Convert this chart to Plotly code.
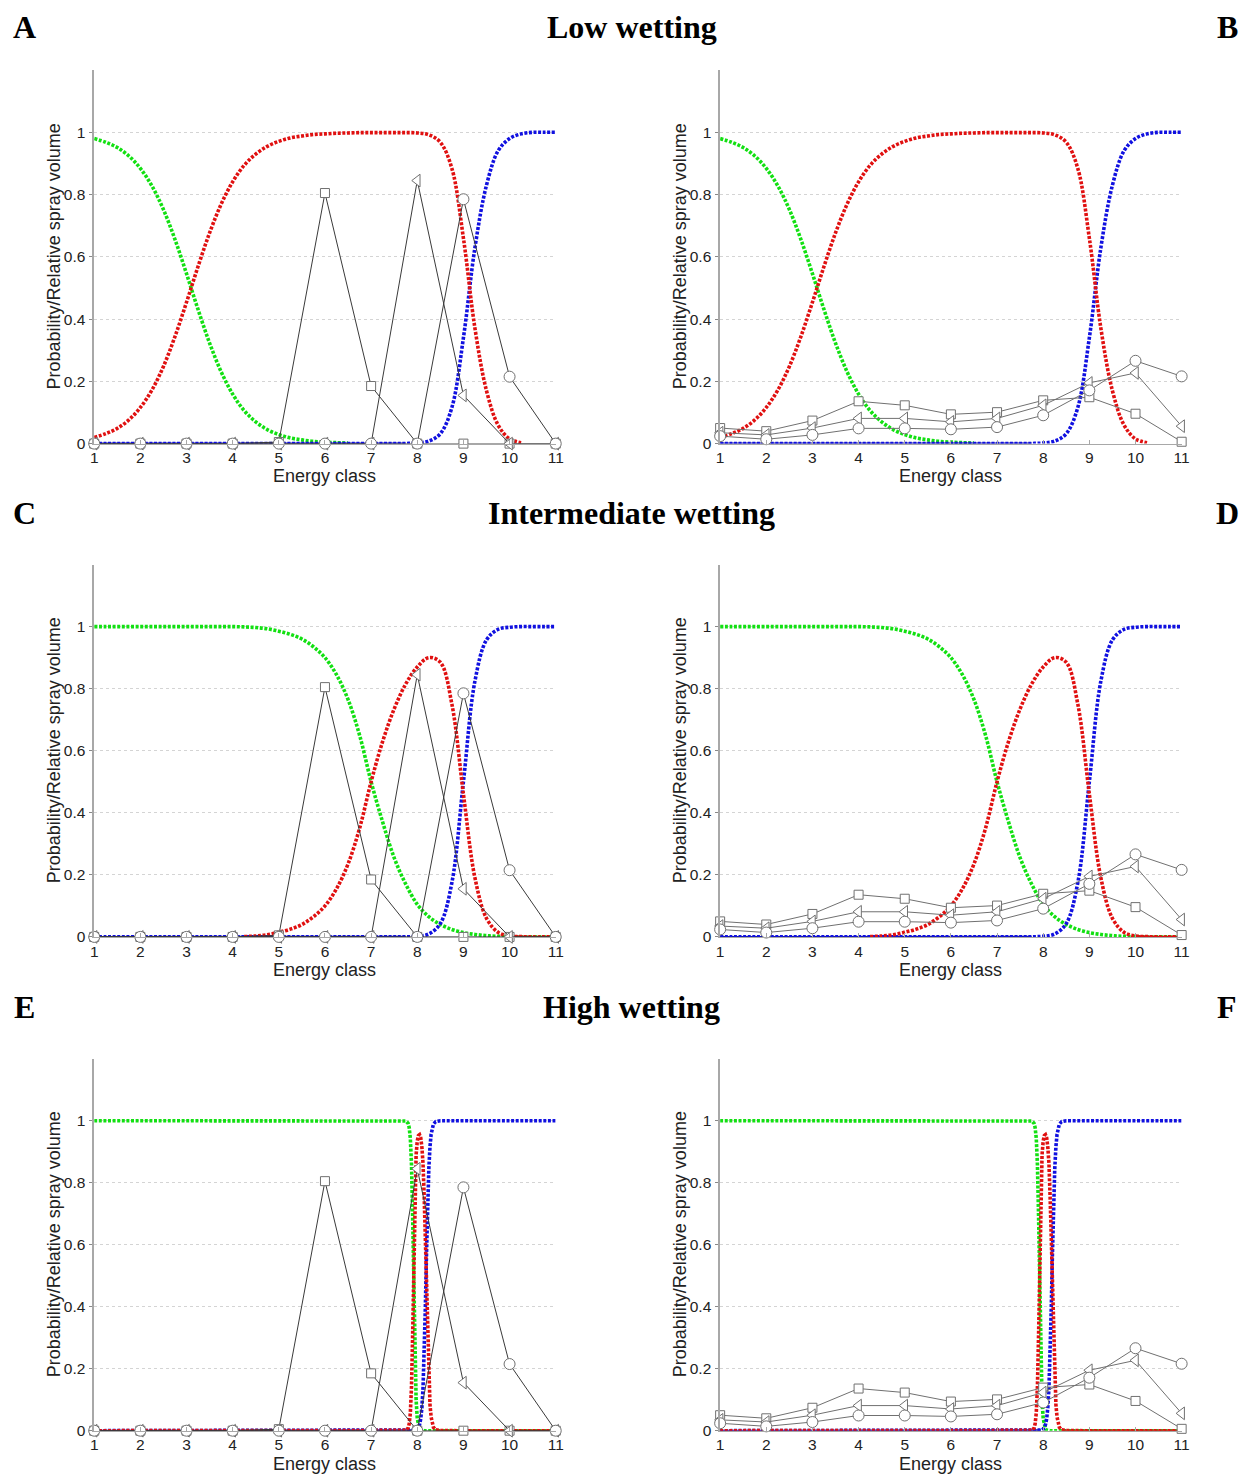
import plotly.graph_objects as go

# ---------------- data ----------------
ENERGY = [1, 2, 3, 4, 5, 6, 7, 8, 9, 10, 11]
X_TICKS = ["1", "2", "3", "4", "5", "6", "7", "8", "9", "10", "11"]
Y_TICKS = [0, 0.2, 0.4, 0.6, 0.8, 1]
Y_TICKTEXT = ["0", "0.2", "0.4", "0.6", "0.8", "1"]

# spray volume series (left column: A, C, E)
SQUARES_L = [0, 0, 0, 0, 0.005, 0.805, 0.185, 0, 0, 0, 0]
TRIANGLES_L = [0, 0, 0, 0, 0, 0, 0, 0.845, 0.155, 0, 0]
CIRCLES_L = [0, 0, 0, 0, 0, 0, 0, 0, 0.785, 0.215, 0]
# spray volume series (right column: B, D, F)
SQUARES_R = [0.05, 0.04, 0.074, 0.136, 0.123, 0.094, 0.101, 0.139, 0.149, 0.096, 0.006]
TRIANGLES_R = [0.035, 0.028, 0.05, 0.081, 0.081, 0.07, 0.081, 0.123, 0.195, 0.227, 0.056]
CIRCLES_R = [0.024, 0.014, 0.028, 0.049, 0.049, 0.046, 0.053, 0.091, 0.171, 0.266, 0.216]

# probability curves
X_SMOOTH = [1, 1.25, 1.5, 1.75, 2, 2.25, 2.5, 2.75, 3, 3.25, 3.5, 3.75, 4, 4.25, 4.5, 4.75,
            5, 5.25, 5.5, 5.75, 6, 6.25, 6.5, 6.75, 7, 7.25, 7.5, 7.75, 8, 8.25, 8.5, 8.75,
            9, 9.25, 9.5, 9.75, 10, 10.25, 10.5, 10.75, 11]

GREEN_LOW = [0.980, 0.968, 0.951, 0.924, 0.884, 0.828, 0.752, 0.656, 0.546, 0.431, 0.323,
             0.231, 0.159, 0.106, 0.070, 0.045, 0.029, 0.018, 0.012, 0.007, 0.005, 0.003,
             0.002, None, None, None, None, None, None, None, None, None, None, None, None,
             None, None, None, None, None, None]
RED_LOW = [0.020, 0.032, 0.049, 0.076, 0.116, 0.172, 0.248, 0.344, 0.454, 0.569, 0.677,
           0.769, 0.841, 0.894, 0.930, 0.955, 0.971, 0.982, 0.988, 0.993, 0.995, 0.997,
           0.998, 0.999, 0.999, 0.999, 0.999, 0.999, 0.998, 0.992, 0.968, 0.884, 0.660,
           0.370, 0.170, 0.060, 0.015, 0.003, None, None, None]
BLUE_LOW = [0, 0, 0, 0, 0, 0, 0, 0, 0, 0, 0, 0, 0, 0, 0, 0, 0, 0, 0, 0, 0, 0, 0, 0, 0, 0,
            0.0001, 0.0005, 0.002, 0.008, 0.032, 0.116, 0.340, 0.630, 0.830, 0.940, 0.980,
            0.995, 1.0, 1.0, 1.0]

GREEN_MID = [1, 1, 1, 1, 1, 1, 1, 1, 1, 1, 1, 1, 1, 0.999, 0.997, 0.993, 0.985, 0.975, 0.96,
             0.935, 0.90, 0.845, 0.765, 0.65, 0.50, 0.37, 0.255, 0.17, 0.105, 0.065, 0.04,
             0.024, 0.014, 0.008, 0.004, 0.002, 0.001, 0, 0, 0, 0]
RED_MID = [None, None, None, None, None, None, None, None, None, None, None, None, None,
           0.001, 0.003, 0.007, 0.015, 0.025, 0.04, 0.065, 0.10, 0.155, 0.235, 0.35, 0.50,
           0.63, 0.735, 0.815, 0.87, 0.90, 0.885, 0.75, 0.46, 0.19, 0.06, 0.015, 0.003,
           0.001, 0, 0, 0]
BLUE_MID = [0, 0, 0, 0, 0, 0, 0, 0, 0, 0, 0, 0, 0, 0, 0, 0, 0, 0, 0, 0, 0, 0, 0, 0, 0, 0, 0,
            0.0004, 0.002, 0.0095, 0.043, 0.175, 0.5, 0.825, 0.957, 0.991, 0.998, 1, 1, 1, 1]

X_SHARP = [1, 2, 3, 4, 5, 6, 7, 7.5, 7.7, 7.75, 7.8, 7.825, 7.85, 7.875, 7.9, 7.925, 7.95,
           7.975, 8.0, 8.025, 8.05, 8.075, 8.1, 8.125, 8.15, 8.175, 8.2, 8.225, 8.25, 8.275,
           8.3, 8.35, 8.4, 8.5, 9, 10, 11]
GREEN_HIGH = [1, 1, 1, 1, 1, 1, 1, 1, 0.9999, 0.9989, 0.992, 0.978, 0.943, 0.858, 0.690,
              0.450, 0.231, 0.100, 0.039, 0.015, 0.0055, 0.002, 0.0007, 0, 0, 0, 0, 0, 0,
              0, 0, 0, 0, 0, 0, 0, 0]
RED_HIGH = [0, 0, 0, 0, 0, 0, 0, 0, 0.0001, 0.001, 0.008, 0.022, 0.057, 0.142, 0.31, 0.549,
            0.768, 0.89, 0.935, 0.952, 0.955, 0.945, 0.915, 0.861, 0.754, 0.603, 0.43, 0.273,
            0.157, 0.085, 0.044, 0.011, 0.0028, 0.0002, 0, 0, 0]
BLUE_HIGH = [0, 0, 0, 0, 0, 0, 0, 0, 0, 0, 0, 0, 0, 0, 0.0003, 0.0006, 0.0012, 0.0024,
             0.0049, 0.0098, 0.0195, 0.038, 0.074, 0.139, 0.246, 0.397, 0.570, 0.727, 0.843,
             0.915, 0.956, 0.989, 0.997, 0.9998, 1, 1, 1]

ROW_TITLES = ["Low wetting", "Intermediate wetting", "High wetting"]
PANEL_LETTERS = [["A", "B"], ["C", "D"], ["E", "F"]]
X_TITLE = "Energy class"
Y_TITLE = "Probability/Relative spray volume"

# ---------------- layout geometry (page pixels) ----------------
PAGE_W, PAGE_H = 1257, 1483
OFF = 8                        # default body margin of the html page
W, H = PAGE_W - OFF, PAGE_H - 2 * OFF


def px_x(px):
    return (px - OFF) / W


def px_y(py):
    return 1 - (py - OFF) / H


COL_X = [(91, 557), (723, 1189)]          # page x of energy class 1 and 11
ROW_Y = [(446, 133), (942, 630), (1438.5, 1126.8)]  # page y of value 0 and 1
Y_MAX = 1.2
TITLE_Y = [27, 516, 1012]
LETTER_X = [21, 1235]

GREEN = "#12e012"
RED = "#e01010"
BLUE = "#1010e0"
DOT = "3px,1.6px"
TICKFONT = dict(family="Liberation Sans, Arial", size=15.5, color="#222")
LABELFONT = dict(family="Liberation Sans, Arial", size=18, color="#222")
HEADFONT = dict(family="Liberation Serif, Times New Roman", size=32, color="black")

fig = go.Figure()
annotations = []

curve_sets = [
    (X_SMOOTH, GREEN_LOW, RED_LOW, BLUE_LOW, "spline"),
    (X_SMOOTH, GREEN_MID, RED_MID, BLUE_MID, "spline"),
    (X_SHARP, GREEN_HIGH, RED_HIGH, BLUE_HIGH, "linear"),
]
marker_sets = [
    (SQUARES_L, TRIANGLES_L, CIRCLES_L, "#3a3a3a"),
    (SQUARES_R, TRIANGLES_R, CIRCLES_R, "#707070"),
]

idx = 0
for r in range(3):
    y0px, y1px = ROW_Y[r]
    per = y0px - y1px
    top_px = y0px - Y_MAX * per
    ydom = [px_y(y0px), px_y(top_px)]
    for c in range(2):
        idx += 1
        sfx = "" if idx == 1 else str(idx)
        xa, ya = "x" + sfx, "y" + sfx
        xl, xr = COL_X[c]
        xdom = [px_x(xl), px_x(xr)]
        fig.update_layout({
            "xaxis" + sfx: dict(domain=xdom, range=[1, 11], anchor=ya,
                                tickvals=ENERGY, ticktext=X_TICKS, showgrid=False,
                                zeroline=False, showline=True, linecolor="#a8a8a8",
                                linewidth=1, ticks="inside", ticklen=4, tickcolor="#a8a8a8",
                                tickfont=TICKFONT, fixedrange=True),
            "yaxis" + sfx: dict(domain=ydom, range=[0, Y_MAX], anchor=xa,
                                tickvals=Y_TICKS, ticktext=Y_TICKTEXT, showgrid=True,
                                gridcolor="#d4d4d4", griddash="dot", gridwidth=1,
                                zeroline=False, showline=True, linecolor="#a8a8a8",
                                linewidth=1.5, ticks="outside", ticklen=3,
                                tickcolor="#888", ticklabelstandoff=1,
                                tickfont=TICKFONT, fixedrange=True),
        })

        xs, g, rd, b, shape = curve_sets[r]
        # solid near-zero segments (as rendered in the original)
        blue_solid = [v if (v is not None and v <= 0.0012 and x <= 8) else None
                      for x, v in zip(xs, b)]
        red_solid = [v if (v is not None and v <= 0.003 and x > 8.3) else None
                     for x, v in zip(xs, rd)]
        fig.add_trace(go.Scatter(x=xs, y=g, mode="lines", xaxis=xa, yaxis=ya,
                                 line=dict(color=GREEN, width=3.6, dash=DOT, shape=shape),
                                 showlegend=False, hoverinfo="skip"))
        fig.add_trace(go.Scatter(x=xs, y=blue_solid, mode="lines", xaxis=xa, yaxis=ya,
                                 line=dict(color="#1c1ca0", width=2), showlegend=False,
                                 hoverinfo="skip"))
        fig.add_trace(go.Scatter(x=xs, y=b, mode="lines", xaxis=xa, yaxis=ya,
                                 line=dict(color=BLUE, width=3.6, dash=DOT, shape=shape),
                                 showlegend=False, hoverinfo="skip"))
        fig.add_trace(go.Scatter(x=xs, y=red_solid, mode="lines", xaxis=xa, yaxis=ya,
                                 line=dict(color="#c81414", width=2), showlegend=False,
                                 hoverinfo="skip"))
        fig.add_trace(go.Scatter(x=xs, y=rd, mode="lines", xaxis=xa, yaxis=ya,
                                 line=dict(color=RED, width=3.6, dash=DOT, shape=shape),
                                 showlegend=False, hoverinfo="skip"))

        sq, tr, ci, lc = marker_sets[c]
        for vals, sym, size in ((sq, "square", 9), (tr, "triangle-left", 11),
                                (ci, "circle", 11)):
            fig.add_trace(go.Scatter(
                x=ENERGY, y=vals, mode="lines+markers", xaxis=xa, yaxis=ya,
                line=dict(color=lc, width=1),
                marker=dict(symbol=sym, size=size, color="white",
                            line=dict(color="#707070", width=1)),
                cliponaxis=False, showlegend=False, hoverinfo="skip"))

        # axis titles
        annotations.append(dict(text=X_TITLE, x=px_x((xl + xr) / 2), y=px_y(y0px + 33),
                                xref="paper", yref="paper", showarrow=False,
                                xanchor="center", yanchor="middle", font=LABELFONT))
        annotations.append(dict(text=Y_TITLE, x=px_x(xl - 41), y=px_y((y0px + top_px) / 2),
                                xref="paper", yref="paper", showarrow=False, textangle=-90,
                                xanchor="center", yanchor="middle", font=LABELFONT))

    # row title and panel letters
    annotations.append(dict(text="<b>%s</b>" % ROW_TITLES[r], x=px_x(634),
                            y=px_y(TITLE_Y[r]), xref="paper", yref="paper",
                            showarrow=False, xanchor="center", yanchor="middle",
                            font=HEADFONT))
    for c, px in enumerate(LETTER_X):
        annotations.append(dict(text="<b>%s</b>" % PANEL_LETTERS[r][c], x=px_x(px),
                                y=px_y(TITLE_Y[r]), xref="paper", yref="paper",
                                showarrow=False, xanchor="center", yanchor="middle",
                                font=HEADFONT))

fig.update_layout(width=W, height=H, margin=dict(l=0, r=0, t=0, b=0),
                  paper_bgcolor="white", plot_bgcolor="white",
                  annotations=annotations, showlegend=False)

fig.write_html("out.html")
